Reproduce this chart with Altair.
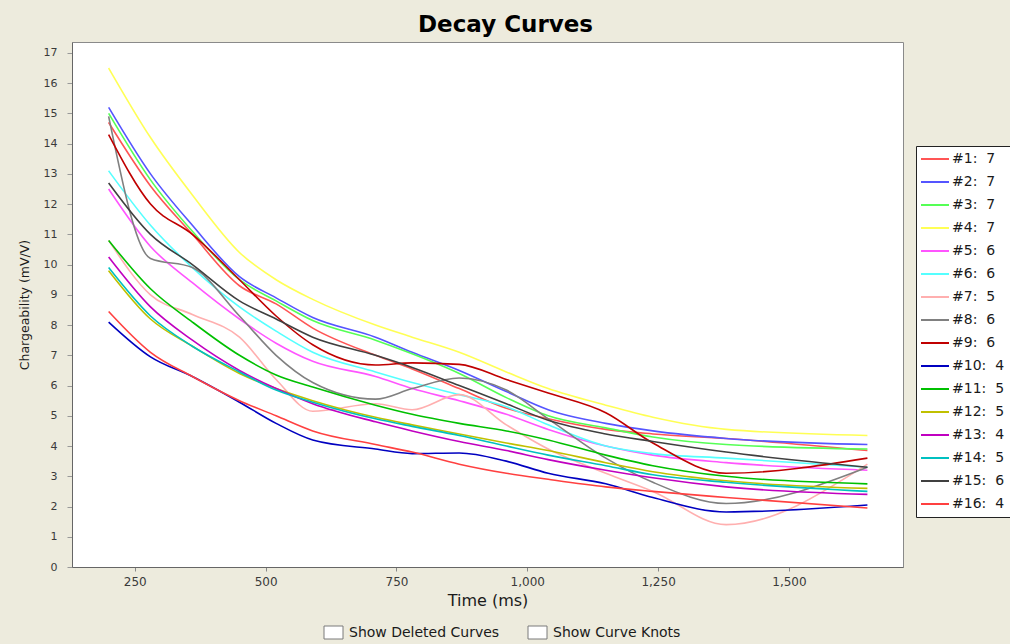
import altair as alt
import pandas as pd

# Gate times (ms) shared by every decay curve
times = [200, 280, 360, 450, 520, 590, 710, 780, 870, 960, 1040, 1150, 1240, 1380, 1650]

# Chargeability (mV/V) per curve at each gate
curve_01 = [14.7, 12.6, 11.0, 9.3, 8.7, 7.9, 7.0, 6.55, 5.9, 5.25, 4.9, 4.55, 4.4, 4.25, 3.85]
curve_02 = [15.2, 13.0, 11.3, 9.6, 8.9, 8.25, 7.6, 7.1, 6.5, 5.8, 5.2, 4.75, 4.5, 4.25, 4.05]
curve_03 = [15.0, 12.8, 11.1, 9.5, 8.8, 8.15, 7.5, 7.05, 6.4, 5.6, 5.0, 4.6, 4.3, 4.05, 3.9]
curve_04 = [16.5, 14.2, 12.3, 10.4, 9.5, 8.85, 8.0, 7.6, 7.1, 6.45, 5.9, 5.35, 4.95, 4.55, 4.35]
curve_05 = [12.5, 10.6, 9.4, 8.2, 7.4, 6.8, 6.3, 5.9, 5.5, 5.05, 4.55, 4.0, 3.7, 3.45, 3.2]
curve_06 = [13.1, 11.3, 9.9, 8.6, 7.8, 7.1, 6.45, 6.1, 5.7, 5.3, 4.7, 4.0, 3.75, 3.6, 3.3]
curve_07 = [10.8, 9.0, 8.35, 7.6, 6.2, 5.15, 5.4, 5.2, 5.7, 4.7, 3.9, 3.1, 2.5, 1.4, 3.4]
curve_08 = [14.9, 10.2, 9.9, 8.3, 7.0, 6.1, 5.55, 5.9, 6.25, 5.85, 4.9, 3.6, 2.8, 2.1, 3.3]
curve_09 = [14.3, 12.0, 11.0, 9.5, 8.3, 7.35, 6.68, 6.75, 6.7, 6.2, 5.75, 5.1, 4.1, 3.1, 3.6]
curve_10 = [8.1, 6.95, 6.3, 5.45, 4.75, 4.2, 3.9, 3.75, 3.77, 3.5, 3.1, 2.75, 2.3, 1.82, 2.05]
curve_11 = [10.8, 9.2, 8.1, 7.0, 6.35, 5.95, 5.35, 5.05, 4.75, 4.5, 4.2, 3.7, 3.35, 3.0, 2.75]
curve_12 = [9.8, 8.2, 7.3, 6.4, 5.9, 5.5, 4.95, 4.7, 4.4, 4.1, 3.85, 3.45, 3.15, 2.85, 2.6]
curve_13 = [10.25, 8.6, 7.5, 6.5, 5.9, 5.4, 4.8, 4.5, 4.15, 3.85, 3.55, 3.2, 2.95, 2.65, 2.4]
curve_14 = [9.9, 8.3, 7.3, 6.45, 5.85, 5.45, 4.9, 4.65, 4.35, 4.0, 3.7, 3.35, 3.05, 2.8, 2.5]
curve_15 = [12.7, 11.0, 10.0, 8.8, 8.2, 7.6, 7.0, 6.6, 6.0, 5.4, 4.85, 4.4, 4.15, 3.8, 3.3]
curve_16 = [8.45, 7.1, 6.3, 5.5, 5.0, 4.5, 4.05, 3.8, 3.4, 3.1, 2.9, 2.65, 2.5, 2.3, 1.95]

curves = [curve_01, curve_02, curve_03, curve_04, curve_05, curve_06, curve_07, curve_08,
          curve_09, curve_10, curve_11, curve_12, curve_13, curve_14, curve_15, curve_16]

# Knot count shown next to each curve id in the legend
knot_counts = [7, 7, 7, 7, 6, 6, 5, 6, 6, 4, 5, 5, 4, 5, 6, 4]

series_colors = ["#FF5555", "#5555FF", "#55FF55", "#FFFF55", "#FF55FF", "#55FFFF",
                 "#FFAFAF", "#808080", "#C00000", "#0000C0", "#00C000", "#C0C000",
                 "#C000C0", "#00C0C0", "#404040", "#FF4040"]

x_ticks = [250, 500, 750, 1000, 1250, 1500]
y_ticks = list(range(0, 18))

checkbox_labels = ["Show Deleted Curves", "Show Curve Knots"]

NBSP = "\u00a0"
legend_labels = [f"#{i + 1}:{NBSP}{NBSP}{k}" for i, k in enumerate(knot_counts)]

rows = []
for idx, (label, vals) in enumerate(zip(legend_labels, curves)):
    for t, v in zip(times, vals):
        rows.append({"curve": label, "order": idx, "time": t, "value": v})
df = pd.DataFrame(rows)

FONT = "DejaVu Sans"

lines = alt.Chart(df).mark_line(strokeWidth=1.6, interpolate="monotone").encode(
    x=alt.X(
        "time:Q",
        scale=alt.Scale(domain=[130, 1718], nice=False, zero=False),
        axis=alt.Axis(
            values=x_ticks, format=",d", title="Time (ms)", grid=False,
            labelFont=FONT, labelFontSize=12, labelColor="#3a3a3a",
            titleFont=FONT, titleFontSize=16, titleFontWeight="normal", titleColor="#1a1a1a",
            tickSize=4, tickColor="#888888", domainColor="#666666",
            labelPadding=5, titlePadding=5,
        ),
    ),
    y=alt.Y(
        "value:Q",
        scale=alt.Scale(domain=[0, 17.36], nice=False),
        axis=alt.Axis(
            values=y_ticks, format="d", title="Chargeability (mV/V)", grid=False,
            labelFont=FONT, labelFontSize=11, labelColor="#3a3a3a",
            titleFont=FONT, titleFontSize=12.5, titleFontWeight="normal", titleColor="#1a1a1a",
            tickSize=5, tickColor="#999999", domainColor="#666666",
            labelPadding=10, titlePadding=12,
        ),
    ),
    color=alt.Color(
        "curve:N",
        scale=alt.Scale(domain=legend_labels, range=series_colors),
        legend=alt.Legend(
            orient="none", legendX=844, legendY=104, title=None,
            symbolType="M-4,0H4", symbolSize=49, symbolStrokeWidth=2,
            labelFont=FONT, labelFontSize=14, labelColor="#1a1a1a",
            strokeColor="#222222", fillColor="white",
            padding=6, rowPadding=9, labelOffset=10, symbolOffset=6,
        ),
    ),
    detail="curve:N",
    order=alt.Order("order:Q"),
)

cb = pd.DataFrame({"label": checkbox_labels})

box1 = alt.Chart(cb.iloc[[0]]).mark_rect(fill="white", stroke="#7a7a7a", strokeWidth=1).encode(
    x=alt.value(252), x2=alt.value(271), y=alt.value(584), y2=alt.value(597)
)
box2 = alt.Chart(cb.iloc[[1]]).mark_rect(fill="white", stroke="#7a7a7a", strokeWidth=1).encode(
    x=alt.value(456), x2=alt.value(475), y=alt.value(584), y2=alt.value(597)
)
text1 = alt.Chart(cb.iloc[[0]]).mark_text(
    align="left", baseline="middle", font=FONT, fontSize=14, color="#1a1a1a"
).encode(text="label:N", x=alt.value(277), y=alt.value(591))
text2 = alt.Chart(cb.iloc[[1]]).mark_text(
    align="left", baseline="middle", font=FONT, fontSize=14, color="#1a1a1a"
).encode(text="label:N", x=alt.value(481), y=alt.value(591))

chart = alt.layer(lines, box1, box2, text1, text2).properties(
    width=831,
    height=525,
    padding={"left": 72, "top": 42, "right": 107, "bottom": 77},
    autosize=alt.AutoSizeParams(type="none"),
    background="#EDEBDD",
    title=alt.TitleParams(
        "Decay Curves", font=FONT, fontSize=23, fontWeight="bold", color="#000000",
        anchor="middle", dx=18, offset=5,
    ),
).configure_view(fill="white", stroke="#8a8a8a", strokeWidth=1)

chart.save("out.html", embed_options={"renderer": "svg", "actions": False})
